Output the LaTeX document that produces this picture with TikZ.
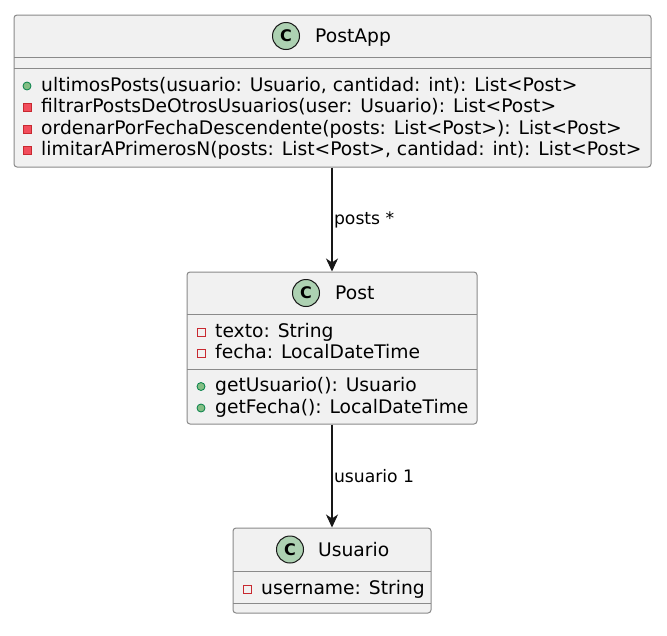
\documentclass[tikz,border=0pt]{standalone}
\usepackage{fontspec}
\setmainfont{DejaVu Sans}
\usetikzlibrary{arrows.meta}
\definecolor{boxfill}{HTML}{F1F1F1}
\definecolor{boxline}{HTML}{8A8A8A}
\definecolor{inkdark}{HTML}{181818}
\definecolor{circfill}{HTML}{ADD1B2}
\definecolor{pubfill}{HTML}{84BE84}
\definecolor{publine}{HTML}{038048}
\definecolor{privfill}{HTML}{F24D5C}
\definecolor{privline}{HTML}{C82930}
\newcommand{\memfont}{\fontsize{18.7}{21}\selectfont}
\newcommand{\lblfont}{\fontsize{17.2}{19}\selectfont}
\tikzset{
  classbox/.style={draw=boxline, fill=boxfill, rounded corners=3pt, line width=1pt, inner sep=0pt},
  divider/.style={draw=boxline, line width=1pt},
  mem/.style={anchor=base west, inner sep=0pt, font=\memfont, text=black},
  hdr/.style={anchor=base west, inner sep=0pt, font=\memfont, text=black},
  circicon/.style={circle, draw=inkdark, fill=circfill, line width=1pt, minimum size=27pt, inner sep=0pt, font=\fontsize{16}{16}\selectfont\bfseries},
  pubicon/.style={circle, draw=publine, fill=pubfill, line width=0.8pt, minimum size=8pt, inner sep=0pt},
  privmicon/.style={rectangle, draw=privline, fill=privfill, line width=0.8pt, minimum size=8pt, inner sep=0pt},
  privficon/.style={rectangle, draw=privline, fill=none, line width=0.9pt, minimum size=8pt, inner sep=0pt},
  assoc/.style={draw=inkdark, line width=1.1pt, -{Stealth[length=13pt, width=12pt, inset=4pt]}},
  elabel/.style={anchor=west, inner sep=1.5pt, font=\lblfont, text=black}
}
\begin{document}
\begin{tikzpicture}[x=1pt, y=-1pt]
\useasboundingbox (0,0) rectangle (667,635);
\fill[white] (0,0) rectangle (667,635);

% PostApp
\node[classbox, minimum width=637pt, minimum height=152pt] (postapp) at (332.5,91) {};
\draw[divider] (14,57) -- (651,57);
\draw[divider] (14,68) -- (651,68);
\node[circicon] (pacirc) at (286,36) {C};
\node[hdr] (patitle) at (315,42.8) {PostApp};
\node[pubicon] (pa1i) at (27,86) {};
\node[mem] (pa1) at (41,91.1) {ultimosPosts(usuario: Usuario, cantidad: int): List<Post>};
\node[privmicon] (pa2i) at (27,107.5) {};
\node[mem] (pa2) at (41,112.6) {filtrarPostsDeOtrosUsuarios(user: Usuario): List<Post>};
\node[privmicon] (pa3i) at (27,129) {};
\node[mem] (pa3) at (41,134.1) {ordenarPorFechaDescendente(posts: List<Post>): List<Post>};
\node[privmicon] (pa4i) at (27,150.5) {};
\node[mem] (pa4) at (41,155.6) {limitarAPrimerosN(posts: List<Post>, cantidad: int): List<Post>};

% Post
\node[classbox, minimum width=290pt, minimum height=152pt] (post) at (332,348) {};
\draw[divider] (187,314) -- (477,314);
\draw[divider] (187,369) -- (477,369);
\node[circicon] (pcirc) at (306,293) {C};
\node[hdr] (ptitle) at (335,299.8) {Post};
\node[privficon] (p1i) at (201,332) {};
\node[mem] (p1) at (215,337.1) {texto: String};
\node[privficon] (p2i) at (201,353.5) {};
\node[mem] (p2) at (215,358.6) {fecha: LocalDateTime};
\node[pubicon] (p3i) at (201,386.5) {};
\node[mem] (p3) at (215,391.6) {getUsuario(): Usuario};
\node[pubicon] (p4i) at (201,408) {};
\node[mem] (p4) at (215,413.1) {getFecha(): LocalDateTime};

% Usuario
\node[classbox, minimum width=198pt, minimum height=85pt] (usuario) at (332,570.5) {};
\draw[divider] (233,571) -- (431,571);
\draw[divider] (233,603) -- (431,603);
\node[circicon] (ucirc) at (290,549.5) {C};
\node[hdr] (utitle) at (318,556.3) {Usuario};
\node[privficon] (u1i) at (247,589) {};
\node[mem] (u1) at (261,594.1) {username: String};

% associations
\draw[assoc] (postapp.south -| post.north) -- (post.north) node[midway, elabel] {posts *};
\draw[assoc] (post.south) -- (usuario.north) node[midway, elabel] {usuario 1};
\end{tikzpicture}
\end{document}
